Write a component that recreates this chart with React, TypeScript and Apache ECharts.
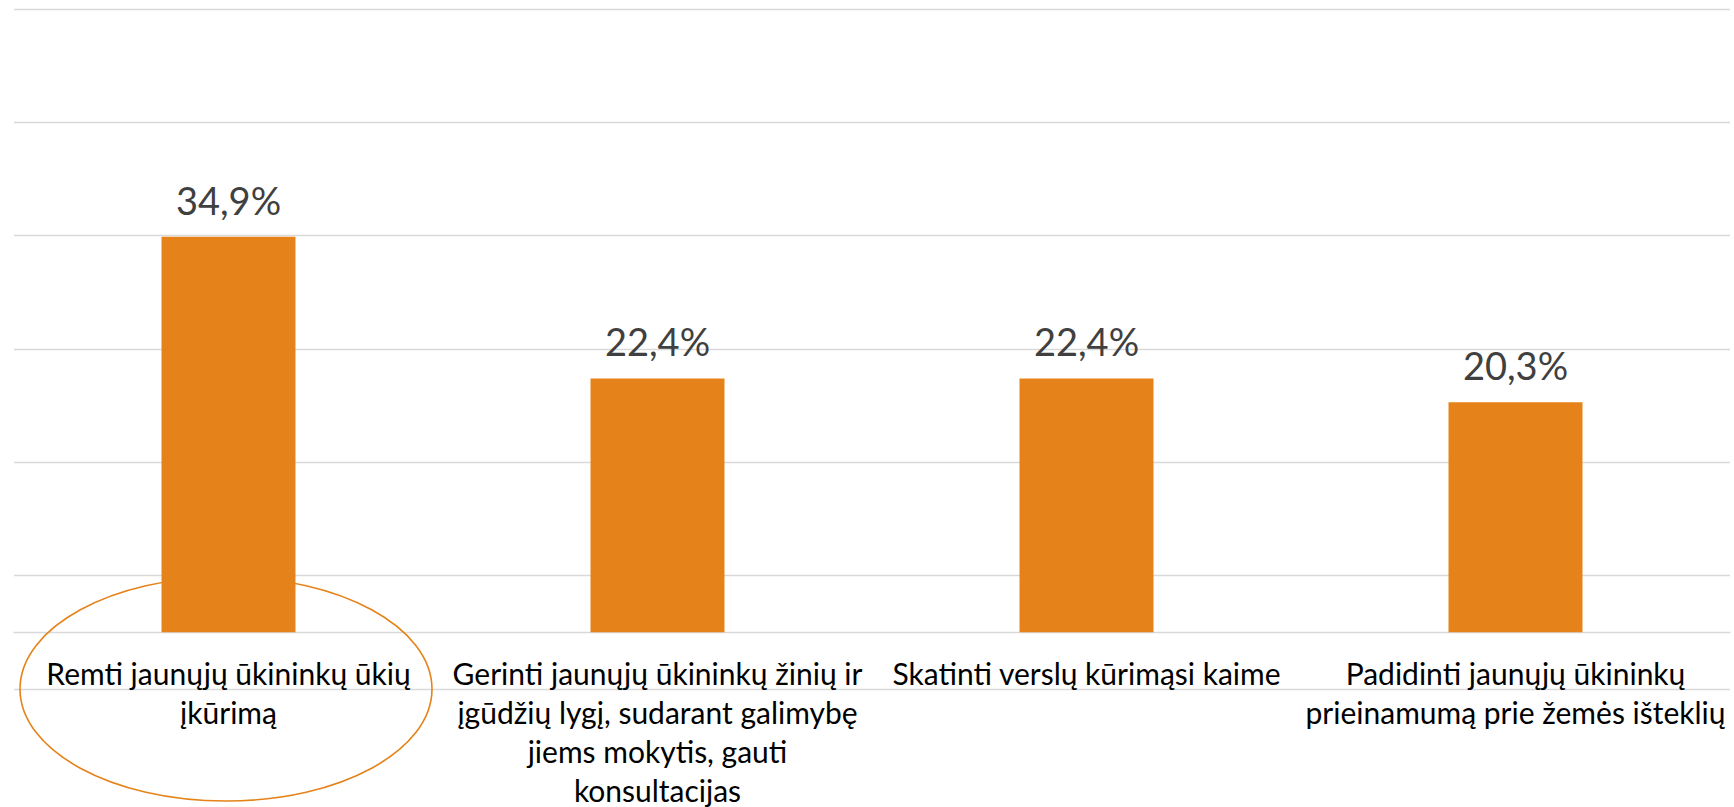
import React, { useEffect, useRef } from "react";
import * as echarts from "echarts";

const categories = [
  "Remti jaunųjų ūkininkų ūkių\nįkūrimą",
  "Gerinti jaunųjų ūkininkų žinių ir\nįgūdžių lygį, sudarant galimybę\njiems mokytis, gauti\nkonsultacijas",
  "Skatinti verslų kūrimąsi kaime",
  "Padidinti jaunųjų ūkininkų\nprieinamumą prie žemės išteklių",
];
const values = [34.9, 22.4, 22.4, 20.3];

const BAR = "#E5831A";
const GRID = "#D9D9D9";
const FONT = "Lato, 'Open Sans', sans-serif";

export default function App() {
  const ref = useRef<HTMLDivElement>(null);
  useEffect(() => {
    if (!ref.current) return;
    const chart = echarts.init(ref.current, undefined, { renderer: "svg" });
    chart.setOption({
      animation: false,
      backgroundColor: "#ffffff",
      grid: {
        left: 14,
        right: 4,
        top: 8.8,
        bottom: 118,
        containLabel: false,
        outerBoundsMode: "none",
      },
      xAxis: {
        type: "category",
        data: categories,
        axisLine: { show: true, onZero: true, onZeroAxisIndex: 0, lineStyle: { color: GRID, width: 1.3 } },
        axisTick: { show: false },
        axisLabel: {
          interval: 0,
          margin: -36,
          fontSize: 30,
          lineHeight: 39,
          color: "#000000",
          fontFamily: FONT,
        },
      },
      yAxis: [
        { type: "value", min: -5, max: 55, show: false },
        {
          type: "value",
          min: 0,
          max: 60,
          interval: 10,
          position: "left",
          axisLine: { show: false },
          axisTick: { show: false },
          axisLabel: { show: false },
          splitLine: { show: true, lineStyle: { color: GRID, width: 1.3 } },
        },
      ],
      graphic: [
        {
          type: "ellipse",
          z: 1,
          shape: { cx: 226, cy: 689, rx: 206, ry: 112 },
          style: { fill: "none", stroke: BAR, lineWidth: 1.6 },
        },
      ],
      series: [
        {
          type: "bar",
          yAxisIndex: 0,
          data: values,
          barWidth: 134,
          z: 5,
          itemStyle: { color: BAR },
          label: {
            show: true,
            position: "top",
            distance: 18,
            fontSize: 38,
            color: "#404040",
            fontFamily: FONT,
            formatter: (p: any) => `${Number(p.value).toFixed(1).replace(".", ",")}%`,
          },
        },
      ],
    });
    return () => chart.dispose();
  }, []);
  return (
    <div
      ref={ref}
      style={{ position: "fixed", left: 0, top: 0, width: 1734, height: 807 }}
    />
  );
}
